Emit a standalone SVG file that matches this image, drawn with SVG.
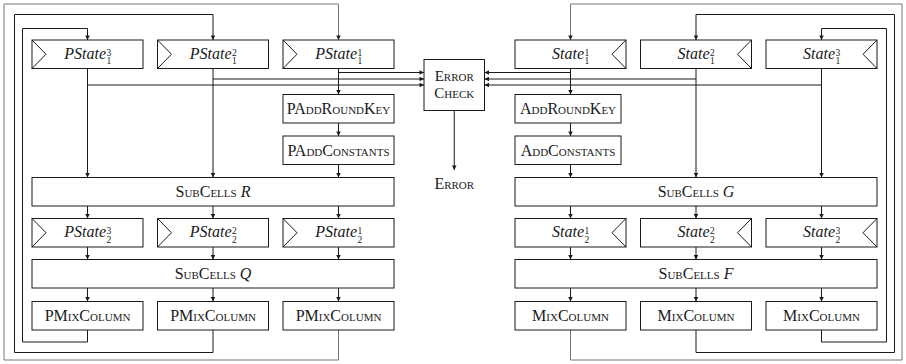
<svg xmlns="http://www.w3.org/2000/svg" width="906" height="364" viewBox="0 0 906 364">
<defs>
<marker id="ah" viewBox="0 0 6 6" refX="6" refY="3" markerWidth="5" markerHeight="4.5" markerUnits="userSpaceOnUse" orient="auto">
<path d="M0,0 L6,3 L0,6 z" fill="#1a1a1a"/>
</marker>
<style>
.box{fill:#fff;stroke:#1a1a1a;stroke-width:1}
.tri{fill:none;stroke:#1a1a1a;stroke-width:1}
.sc{font-family:"Liberation Serif",serif;font-size:16px;font-variant:small-caps;fill:#1a1a1a;text-anchor:middle}
.sc2{font-family:"Liberation Serif",serif;font-size:15px;font-variant:small-caps;fill:#1a1a1a;text-anchor:middle}
.it{font-family:"Liberation Serif",serif;font-size:16px;font-style:italic;fill:#1a1a1a;text-anchor:end}
.sc .m{font-style:italic;font-variant:normal}
.scr{font-family:"Liberation Serif",serif;font-size:9.5px;fill:#1a1a1a;text-anchor:start}
.c{fill:none;stroke:#1a1a1a;stroke-width:1}
.c path{marker-end:url(#ah)}
.c path.o{stroke:#777}
</style>
</defs>
<rect width="906" height="364" fill="#fff"/>

<g id="connectors" class="c">
<path class="o" d="M338.5,330 V360 H4 V4 H338.5 V40"/>
<path d="M213,330 V352.5 H14.5 V14.5 H213 V40"/>
<path d="M87.5,330 V342 H22.5 V28.5 H87.5 V40"/>
<path class="o" d="M570.5,330 V360 H902 V4 H570.5 V40"/>
<path d="M696,330 V352.5 H894.5 V14.5 H696 V40"/>
<path d="M821.5,330 V342 H886.5 V28.5 H821.5 V40"/>
<path d="M338.5,68.5 V94.5"/>
<path d="M338.5,123 V136"/>
<path d="M338.5,164.5 V177.5"/>
<path d="M213,68.5 V177.5"/>
<path d="M87.5,68.5 V177.5"/>
<path d="M570.5,68.5 V94.5"/>
<path d="M570.5,123 V136"/>
<path d="M570.5,164.5 V177.5"/>
<path d="M696,68.5 V177.5"/>
<path d="M821.5,68.5 V177.5"/>
<path d="M338.5,72.5 H424"/>
<path d="M213,79 H424"/>
<path d="M87.5,85 H424"/>
<path d="M570.5,72.5 H484.5"/>
<path d="M696,79 H484.5"/>
<path d="M821.5,85 H484.5"/>
<path d="M454.25,110.5 V170"/>
<path d="M87.5,206 V218.5"/><path d="M213,206 V218.5"/><path d="M338.5,206 V218.5"/>
<path d="M570.5,206 V218.5"/><path d="M696,206 V218.5"/><path d="M821.5,206 V218.5"/>
<path d="M87.5,247 V259.5"/><path d="M213,247 V259.5"/><path d="M338.5,247 V259.5"/>
<path d="M570.5,247 V259.5"/><path d="M696,247 V259.5"/><path d="M821.5,247 V259.5"/>
<path d="M87.5,288 V301.5"/><path d="M213,288 V301.5"/><path d="M338.5,288 V301.5"/>
<path d="M570.5,288 V301.5"/><path d="M696,288 V301.5"/><path d="M821.5,288 V301.5"/>
</g>

<!-- Left side -->
<g id="pstate3_1"><rect class="box" x="32" y="40" width="111" height="28.5"/><polyline class="tri" points="32,40 46,54.25 32,68.5"/><text class="it" x="106" y="58.5">PState</text><text class="scr" x="106.5" y="55.5">3</text><text class="scr" x="106.5" y="64">1</text></g>
<g id="pstate2_1"><rect class="box" x="157.5" y="40" width="111" height="28.5"/><polyline class="tri" points="157.5,40 171.5,54.25 157.5,68.5"/><text class="it" x="231.5" y="58.5">PState</text><text class="scr" x="232" y="55.5">2</text><text class="scr" x="232" y="64">1</text></g>
<g id="pstate1_1"><rect class="box" x="283" y="40" width="111" height="28.5"/><polyline class="tri" points="283,40 297,54.25 283,68.5"/><text class="it" x="357" y="58.5">PState</text><text class="scr" x="357.5" y="55.5">1</text><text class="scr" x="357.5" y="64">1</text></g>
<g id="paddroundkey"><rect class="box" x="283" y="94.5" width="111" height="28.5"/><text class="sc" x="338.5" y="114">PAddRoundKey</text></g>
<g id="paddconstants"><rect class="box" x="283" y="136" width="111" height="28.5"/><text class="sc" x="338.5" y="155.5">PAddConstants</text></g>
<g id="subcellsR"><rect class="box" x="32" y="177.5" width="362" height="28.5"/><text class="sc" x="213" y="197">SubCells <tspan class="m">R</tspan></text></g>
<g id="pstate3_2"><rect class="box" x="32" y="218.5" width="111" height="28.5"/><polyline class="tri" points="32,218.5 46,232.75 32,247"/><text class="it" x="106" y="237">PState</text><text class="scr" x="106.5" y="234">3</text><text class="scr" x="106.5" y="242.5">2</text></g>
<g id="pstate2_2"><rect class="box" x="157.5" y="218.5" width="111" height="28.5"/><polyline class="tri" points="157.5,218.5 171.5,232.75 157.5,247"/><text class="it" x="231.5" y="237">PState</text><text class="scr" x="232" y="234">2</text><text class="scr" x="232" y="242.5">2</text></g>
<g id="pstate1_2"><rect class="box" x="283" y="218.5" width="111" height="28.5"/><polyline class="tri" points="283,218.5 297,232.75 283,247"/><text class="it" x="357" y="237">PState</text><text class="scr" x="357.5" y="234">1</text><text class="scr" x="357.5" y="242.5">2</text></g>
<g id="subcellsQ"><rect class="box" x="32" y="259.5" width="362" height="28.5"/><text class="sc" x="213" y="279">SubCells <tspan class="m">Q</tspan></text></g>
<g id="pmix3"><rect class="box" x="32" y="301.5" width="111" height="28.5"/><text class="sc" x="87.5" y="321">PMixColumn</text></g>
<g id="pmix2"><rect class="box" x="157.5" y="301.5" width="111" height="28.5"/><text class="sc" x="213" y="321">PMixColumn</text></g>
<g id="pmix1"><rect class="box" x="283" y="301.5" width="111" height="28.5"/><text class="sc" x="338.5" y="321">PMixColumn</text></g>

<!-- Error check -->
<g id="errorcheck"><rect class="box" x="424" y="59.5" width="60.5" height="51"/><text class="sc2" x="454.25" y="81">Error</text><text class="sc2" x="454.25" y="98">Check</text></g>
<g id="error"><text class="sc" x="454.25" y="188.5">Error</text></g>

<!-- Right side -->
<g id="state1_1"><rect class="box" x="515" y="40" width="111" height="28.5"/><polyline class="tri" points="626,40 612,54.25 626,68.5"/><text class="it" x="584" y="58.5">State</text><text class="scr" x="584.5" y="55.5">1</text><text class="scr" x="584.5" y="64">1</text></g>
<g id="state2_1"><rect class="box" x="640.5" y="40" width="111" height="28.5"/><polyline class="tri" points="751.5,40 737.5,54.25 751.5,68.5"/><text class="it" x="709.5" y="58.5">State</text><text class="scr" x="710" y="55.5">2</text><text class="scr" x="710" y="64">1</text></g>
<g id="state3_1"><rect class="box" x="766" y="40" width="111" height="28.5"/><polyline class="tri" points="877,40 863,54.25 877,68.5"/><text class="it" x="835" y="58.5">State</text><text class="scr" x="835.5" y="55.5">3</text><text class="scr" x="835.5" y="64">1</text></g>
<g id="addroundkey"><rect class="box" x="515" y="94.5" width="106" height="28.5"/><text class="sc" x="568" y="114">AddRoundKey</text></g>
<g id="addconstants"><rect class="box" x="515" y="136" width="106" height="28.5"/><text class="sc" x="568" y="155.5">AddConstants</text></g>
<g id="subcellsG"><rect class="box" x="515" y="177.5" width="362" height="28.5"/><text class="sc" x="696" y="197">SubCells <tspan class="m">G</tspan></text></g>
<g id="state1_2"><rect class="box" x="515" y="218.5" width="111" height="28.5"/><polyline class="tri" points="626,218.5 612,232.75 626,247"/><text class="it" x="584" y="237">State</text><text class="scr" x="584.5" y="234">1</text><text class="scr" x="584.5" y="242.5">2</text></g>
<g id="state2_2"><rect class="box" x="640.5" y="218.5" width="111" height="28.5"/><polyline class="tri" points="751.5,218.5 737.5,232.75 751.5,247"/><text class="it" x="709.5" y="237">State</text><text class="scr" x="710" y="234">2</text><text class="scr" x="710" y="242.5">2</text></g>
<g id="state3_2"><rect class="box" x="766" y="218.5" width="111" height="28.5"/><polyline class="tri" points="877,218.5 863,232.75 877,247"/><text class="it" x="835" y="237">State</text><text class="scr" x="835.5" y="234">3</text><text class="scr" x="835.5" y="242.5">2</text></g>
<g id="subcellsF"><rect class="box" x="515" y="259.5" width="362" height="28.5"/><text class="sc" x="696" y="279">SubCells <tspan class="m">F</tspan></text></g>
<g id="mix1"><rect class="box" x="515" y="301.5" width="111" height="28.5"/><text class="sc" x="570.5" y="321">MixColumn</text></g>
<g id="mix2"><rect class="box" x="640.5" y="301.5" width="111" height="28.5"/><text class="sc" x="696" y="321">MixColumn</text></g>
<g id="mix3"><rect class="box" x="766" y="301.5" width="111" height="28.5"/><text class="sc" x="821.5" y="321">MixColumn</text></g>
</svg>
